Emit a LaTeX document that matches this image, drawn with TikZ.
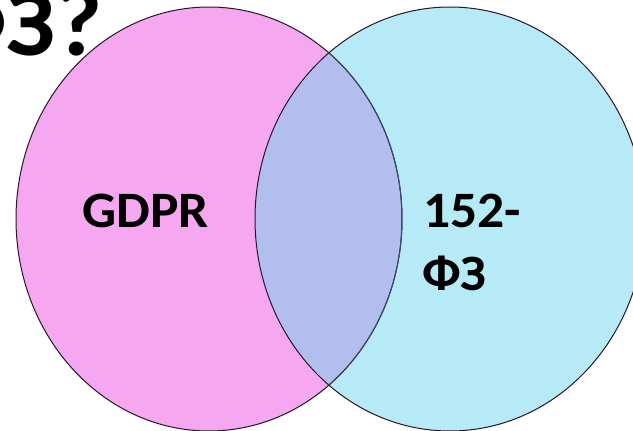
\documentclass[tikz,border=0pt]{standalone}
\usepackage{fontspec}
\setmainfont{Carlito}
\definecolor{pinkfill}{RGB}{245,167,239}
\definecolor{cyanfill}{RGB}{183,234,247}
\definecolor{overlapfill}{RGB}{178,190,238}
\definecolor{edgedark}{RGB}{40,20,45}
\definecolor{edgemid}{RGB}{60,72,105}
\tikzset{
  label50/.style={font=\bfseries\fontsize{51}{60}\selectfont, inner sep=0pt, anchor=base west, xscale=1.05},
  edgeline/.style={draw=edgedark, line width=1pt}
}
\begin{document}
\begin{tikzpicture}[x=1pt,y=-1pt]
\useasboundingbox (0,0) rectangle (633,431);
\clip (0,0) rectangle (633,431);
% fills
\fill[pinkfill] (209,219) ellipse [x radius=193pt, y radius=212pt];
\fill[cyanfill] (450,219) ellipse [x radius=195pt, y radius=212pt];
\begin{scope}
  \clip (450,219) ellipse [x radius=195pt, y radius=212pt];
  \fill[overlapfill] (209,219) ellipse [x radius=193pt, y radius=212pt];
\end{scope}
% outlines
\draw[edgeline] (209,219) ellipse [x radius=193pt, y radius=212pt];
\draw[edgeline] (450,219) ellipse [x radius=195pt, y radius=212pt];
\begin{scope}
  \clip (450,219) ellipse [x radius=195pt, y radius=212pt];
  \draw[draw=edgemid, line width=1pt] (209,219) ellipse [x radius=193pt, y radius=212pt];
\end{scope}
% texts
\node[font=\bfseries\fontsize{96}{100}\selectfont, inner sep=0pt, anchor=base east, xscale=1.06] (title) at (103,56) {ФЗ?};
\node[label50] (gdpr) at (82,227) {GDPR};
\node[label50] (law1) at (423,227) {152-};
\node[label50] (law2) at (422,290) {ФЗ};
\end{tikzpicture}
\end{document}
